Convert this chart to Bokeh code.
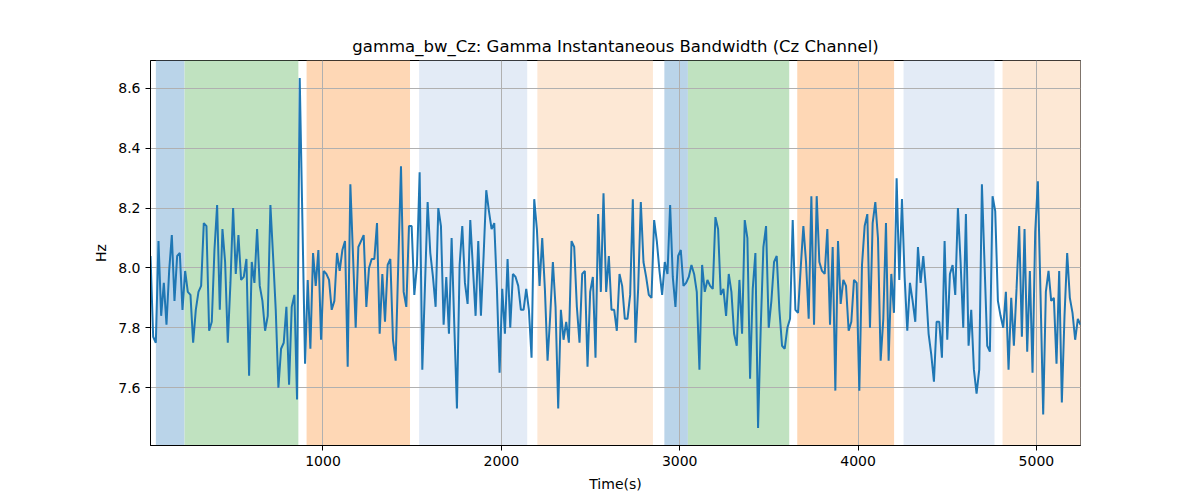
import numpy as np
from bokeh.plotting import figure
from bokeh.models import BoxAnnotation, FixedTicker, PrintfTickFormatter, Range1d
from bokeh.embed import file_html
from bokeh.resources import INLINE

# sampling of the series (seconds)
t_start = 33.0
t_step = 14.94

gamma_bw = [
    8.04, 7.77, 7.75, 8.09, 7.84, 7.95, 7.81, 7.99, 8.11, 7.89,
    8.04, 8.05, 7.86, 7.99, 7.92, 7.91, 7.75, 7.86, 7.92, 7.94,
    8.15, 8.14, 7.79, 7.82, 8.06, 8.21, 7.86, 8.13, 8.02, 7.75,
    7.95, 8.20, 7.98, 8.11, 7.96, 7.97, 8.03, 7.64, 8.02, 7.95,
    8.13, 7.94, 7.89, 7.79, 7.84, 8.21, 8.04, 7.86, 7.60, 7.73,
    7.75, 7.87, 7.61, 7.87, 7.91, 7.56, 8.635, 8.16, 7.68, 7.96,
    7.73,
    8.05, 7.94, 8.06, 7.76, 7.99, 7.98, 7.96, 7.86, 7.89, 8.05,
    7.99, 8.06, 8.09, 7.67, 8.28, 8.04, 7.80, 8.07, 8.09, 8.11,
    7.87, 8.00, 8.03, 8.03, 8.15, 7.78, 7.98, 7.82, 8.01, 8.03,
    7.76, 7.69, 8.02, 8.34, 7.92, 7.87, 8.14, 8.14, 7.91, 8.01,
    8.32, 7.66, 7.94, 8.22, 8.05, 7.97, 7.87, 8.20, 8.14, 7.81,
    7.97, 7.78, 8.10, 7.81, 7.53, 8.01, 8.14, 7.95,
    7.88, 8.16, 8.00, 7.84, 8.09, 7.84, 8.04, 8.26, 8.19, 8.13,
    8.15, 7.93, 7.65, 7.93, 7.78, 8.03, 7.80, 7.98, 7.97, 7.94,
    7.86, 7.86, 7.93, 7.86, 7.70, 8.23, 8.13, 7.94, 8.10, 7.93,
    7.69, 7.84, 8.02, 7.87, 7.53, 7.86, 7.76, 7.82, 7.75, 8.09,
    8.07, 7.87, 7.75, 7.98, 7.99, 7.67, 7.92, 7.97, 7.70, 8.18,
    7.92, 8.25, 7.92, 8.04, 7.86, 7.86, 7.79, 7.98,
    7.94, 7.83, 7.83, 7.91, 8.23, 7.75, 7.93, 8.22, 8.02, 7.97,
    7.91, 7.90, 8.16, 8.09, 7.99, 7.91, 8.02, 7.98, 8.21, 7.97,
    7.87, 8.04, 8.06, 7.94, 7.95, 7.97, 8.01, 7.98, 7.92, 7.66,
    8.01, 7.92, 7.96, 7.94, 7.93, 8.17, 8.13, 7.91, 7.93, 7.84,
    7.98, 7.92, 7.78, 7.74, 7.96, 7.78, 8.16, 8.10, 7.63, 7.93,
    8.05, 7.465, 7.80, 8.07, 8.14, 7.80, 7.89, 8.02,
    8.04, 7.86, 7.74, 7.73, 7.80, 7.83, 8.16, 7.86, 7.85, 8.00,
    8.14, 8.02, 7.83, 8.24, 7.81, 8.24, 8.02, 7.99, 7.98, 8.13,
    7.81, 8.07, 7.59, 8.09, 7.88, 7.96, 7.94, 7.79, 7.82, 7.96,
    7.95, 7.59, 8.01, 8.14, 8.18, 7.80, 8.15, 8.22, 8.10, 7.69,
    7.83, 8.15, 7.69, 7.98, 7.85, 8.30, 7.96, 8.23, 7.97, 7.79,
    7.95, 7.89, 7.82, 8.07, 7.95, 8.04, 7.93, 7.78,
    7.71, 7.62, 7.82, 7.82, 7.70, 8.09, 7.76, 7.98, 8.01, 7.91,
    8.20, 8.02, 7.80, 8.18, 7.74, 7.86, 7.66, 7.58, 7.66, 8.28,
    8.01, 7.74, 7.72, 8.24, 8.19, 7.89, 7.84, 7.80, 7.92, 7.66,
    7.90, 7.74, 7.93, 8.14, 7.77, 8.13, 7.72, 7.99, 7.65, 8.12,
    8.29, 7.91, 7.51, 7.92, 7.99, 7.89, 7.90, 7.68, 7.99, 7.55,
    7.84, 8.05, 7.90, 7.85, 7.76, 7.83, 7.81,
]

span_start = [63, 224, 908, 1539, 2202, 2914, 3046, 3659, 4255, 4810]
span_end = [224, 862, 1488, 2145, 2850, 3046, 3614, 4202, 4765, 5300]
span_color = ["#bad4e9", "#c0e2c0", "#fed7b5", "#e3ebf6", "#fde8d5",
              "#bad4e9", "#c0e2c0", "#fed7b5", "#e3ebf6", "#fde8d5"]

x_ticks = [1000, 2000, 3000, 4000, 5000]
y_ticks = [7.6, 7.8, 8.0, 8.2, 8.4, 8.6]

t = t_start + t_step * np.arange(len(gamma_bw))
vals = np.array(gamma_bw)

ypad = (vals.max() - vals.min()) * 0.05

p = figure(
    width=1184, height=484,
    frame_width=930, frame_height=385,
    min_border_left=150, min_border_right=104,
    min_border_top=60, min_border_bottom=39,
    x_range=Range1d(t[0], t[-1]),
    y_range=Range1d(vals.min() - ypad, vals.max() + ypad),
    output_backend="svg", toolbar_location=None,
    title="gamma_bw_Cz: Gamma Instantaneous Bandwidth (Cz Channel)",
)

for s, e, c in zip(span_start, span_end, span_color):
    p.add_layout(BoxAnnotation(left=s, right=e, fill_color=c, fill_alpha=1.0,
                               line_color=None, level="image"))

p.line(t, vals, line_color="#1f77b4", line_width=2)

p.title.align = "center"
p.title.text_font = "DejaVu Sans"
p.title.text_font_size = "16.5px"
p.title.text_font_style = "normal"
p.title.text_color = "black"

p.outline_line_color = "black"
p.outline_line_width = 1
p.background_fill_color = "white"
p.border_fill_color = "white"

p.xaxis.ticker = FixedTicker(ticks=x_ticks)
p.yaxis.ticker = FixedTicker(ticks=y_ticks)
p.yaxis.formatter = PrintfTickFormatter(format="%.1f")
p.xaxis.axis_label = "Time(s)"
p.yaxis.axis_label = "Hz"

for ax in (p.xaxis, p.yaxis):
    ax.axis_label_text_font = "DejaVu Sans"
    ax.axis_label_text_font_size = "14px"
    ax.axis_label_text_font_style = "normal"
    ax.axis_label_text_color = "black"
    ax.major_label_text_font = "DejaVu Sans"
    ax.major_label_text_font_size = "14px"
    ax.major_label_text_color = "black"
    ax.minor_tick_line_color = None
    ax.major_tick_in = 0
    ax.major_tick_out = 5
    ax.major_tick_line_color = "black"
    ax.axis_line_color = "black"

p.xaxis.axis_label_standoff = 7
p.yaxis.axis_label_standoff = 6

p.grid.grid_line_color = "#b0b0b0"
p.grid.grid_line_width = 1

open("out.html", "w").write(file_html(p, INLINE))
